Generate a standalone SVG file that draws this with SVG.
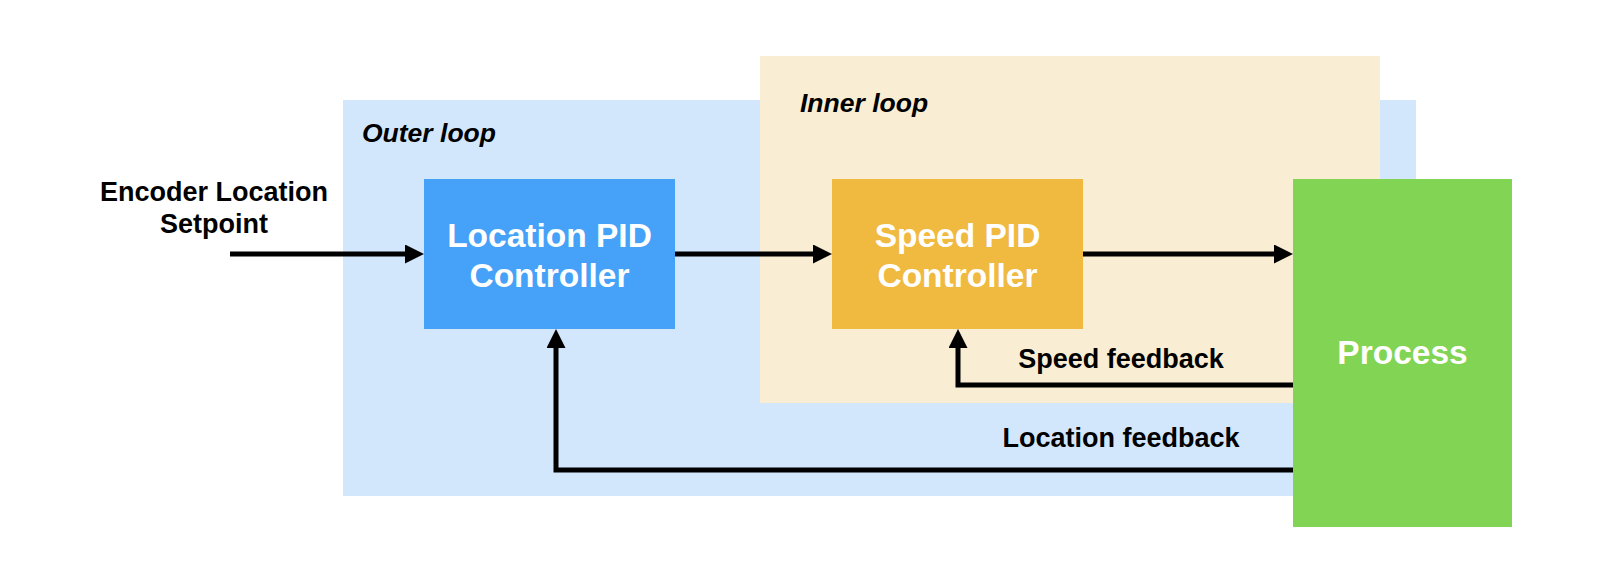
<svg xmlns="http://www.w3.org/2000/svg" width="1600" height="572" viewBox="0 0 1600 572">
<style>
.lbl{font-family:"Liberation Sans",Arial,sans-serif;font-weight:bold;fill:#000;font-size:27px;text-anchor:middle}
.ttl{font-family:"Liberation Sans",Arial,sans-serif;font-weight:bold;font-style:italic;fill:#000;font-size:26.5px}
.box{font-family:"Liberation Sans",Arial,sans-serif;font-weight:bold;fill:#fff;font-size:33.5px;text-anchor:middle}
.wire{fill:none;stroke:#000;stroke-width:5}
</style>
<defs>
<marker id="ah" viewBox="0 0 19 19" refX="1" refY="9.5" markerWidth="19" markerHeight="19" markerUnits="userSpaceOnUse" orient="auto">
<path d="M0,0 L19,9.5 L0,19 z" fill="#000"/>
</marker>
</defs>
<rect width="1600" height="572" fill="#fff"/>
<g id="outer-loop">
<rect x="343" y="100" width="1073" height="396" fill="#D2E7FC"/>
<text class="ttl" x="362" y="142">Outer loop</text>
</g>
<g id="inner-loop">
<rect x="760" y="56" width="620" height="347" fill="#F9EDD3"/>
<text class="ttl" x="800" y="112">Inner loop</text>
</g>
<g id="setpoint">
<text class="lbl" x="214" y="201">Encoder Location</text>
<text class="lbl" x="214" y="233">Setpoint</text>
</g>
<g id="location-pid">
<rect x="424" y="179" width="251" height="150" fill="#45A2F8"/>
<text class="box" x="549.5" y="247">Location PID</text>
<text class="box" x="549.5" y="287">Controller</text>
</g>
<g id="speed-pid">
<rect x="832" y="179" width="251" height="150" fill="#F0B940"/>
<text class="box" x="957.5" y="247">Speed PID</text>
<text class="box" x="957.5" y="287">Controller</text>
</g>
<g id="process">
<rect x="1293" y="179" width="219" height="348" fill="#82D454"/>
<text class="box" x="1402.5" y="364">Process</text>
</g>
<g id="connectors">
<path class="wire" d="M230,254 H406" marker-end="url(#ah)"/>
<path class="wire" d="M675,254 H814" marker-end="url(#ah)"/>
<path class="wire" d="M1083,254 H1275" marker-end="url(#ah)"/>
<path class="wire" d="M1293,385 H958 V347" marker-end="url(#ah)"/>
<path class="wire" d="M1293,470 H556 V347" marker-end="url(#ah)"/>
<text class="lbl" x="1121" y="368">Speed feedback</text>
<text class="lbl" x="1121" y="447">Location feedback</text>
</g>
</svg>
